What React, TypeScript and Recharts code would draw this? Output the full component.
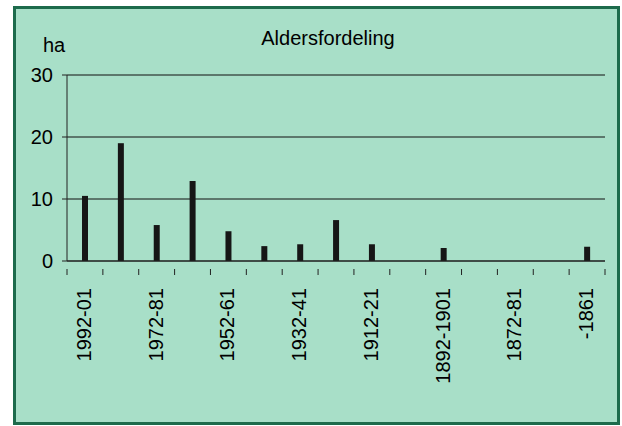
import React from 'react'
import { BarChart, Bar, XAxis, YAxis, CartesianGrid } from 'recharts'

const periods = [
  '1992-01', '1982-91', '1972-81', '1962-71', '1952-61', '1942-51', '1932-41', '1922-31',
  '1912-21', '1902-11', '1892-1901', '1882-91', '1872-81', '1862-71', '-1861',
]
const hectares = [10.5, 19, 5.8, 12.9, 4.8, 2.4, 2.7, 6.6, 2.7, 0, 2.1, 0, 0, 0, 2.3]
const yTicks = [0, 10, 20, 30]

const data = periods.map((period, i) => ({ period, ha: hectares[i] }))

const FONT = '"Liberation Sans", Arial, sans-serif'
const PLOT_LEFT = 67
const PLOT_RIGHT = 605
const HALF_BAND = (PLOT_RIGHT - PLOT_LEFT) / periods.length / 2

const PeriodTick = (props: any) => {
  const { x, y, payload, index } = props
  const last = index === periods.length - 1
  return (
    <g>
      <line x1={x - HALF_BAND} y1={y} x2={x - HALF_BAND} y2={y + 6} stroke="#222" />
      {last && <line x1={x + HALF_BAND} y1={y} x2={x + HALF_BAND} y2={y + 6} stroke="#222" />}
      {index % 2 === 0 && (
        <text
          transform={`translate(${x - 1},${y + 19}) rotate(-90)`}
          textAnchor="end"
          dominantBaseline="central"
          fontSize={20}
          fontFamily={FONT}
          fill="#000"
        >
          {payload.value}
        </text>
      )}
    </g>
  )
}

const App = () => {
  return (
    <div style={{ position: 'absolute', left: 0, top: 0, width: 622, height: 426, background: '#fff' }}>
      <div
        style={{
          position: 'absolute', left: 13, top: 6, width: 601, height: 413,
          border: '3px solid #1d6b4c', background: '#a8dfc8',
        }}
      />
      <div style={{ position: 'absolute', left: 0, top: 0 }}>
        <BarChart
          width={622}
          height={426}
          data={data}
          margin={{ top: 75, right: 622 - PLOT_RIGHT, bottom: 65, left: PLOT_LEFT - 40 }}
          barCategoryGap={0}
        >
          <text x={328} y={45} textAnchor="middle" fontSize={20} fontFamily={FONT} fill="#000">
            Aldersfordeling
          </text>
          <text x={54} y={52} textAnchor="middle" fontSize={20} fontFamily={FONT} fill="#000">
            ha
          </text>
          <CartesianGrid vertical={false} stroke="#111" />
          <XAxis
            dataKey="period"
            interval={0}
            height={100}
            axisLine={{ stroke: '#222' }}
            tickLine={false}
            tick={<PeriodTick />}
          />
          <YAxis
            width={40}
            domain={[0, 30]}
            ticks={yTicks}
            interval={0}
            axisLine={{ stroke: '#222' }}
            tickLine={{ stroke: '#222' }}
            tickSize={5}
            tickMargin={9}
            tick={{ fontSize: 20, fontFamily: FONT, fill: '#000' }}
          />
          <Bar dataKey="ha" fill="#161616" barSize={6} isAnimationActive={false} />
        </BarChart>
      </div>
    </div>
  )
}

export default App
